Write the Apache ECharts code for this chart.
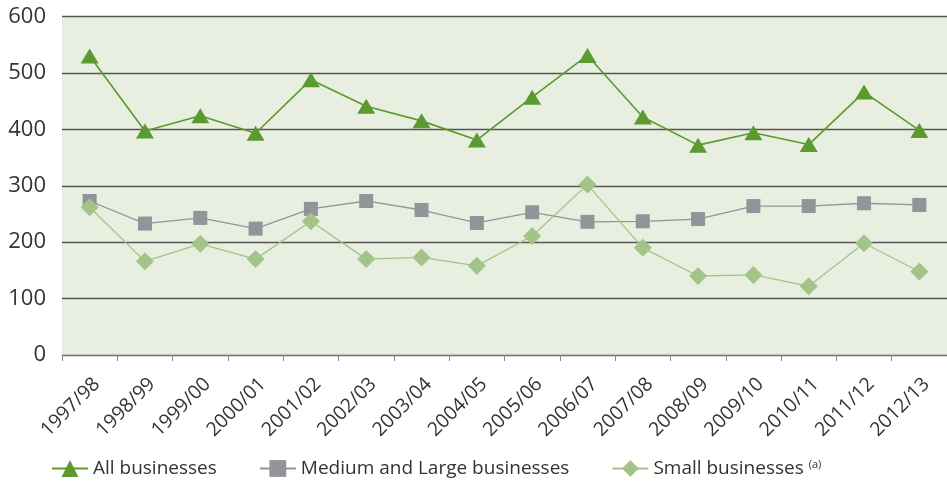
<!DOCTYPE html>
<html>
<head>
<meta charset="utf-8">
<script src="https://cdn.jsdelivr.net/npm/echarts@6/dist/echarts.min.js"></script>
<style>
html,body{margin:0;padding:0;background:#fff;}
#c{width:947px;height:483px;}
</style>
</head>
<body>
<div id="c"></div>
<script>
const categories = ["1997/98","1998/99","1999/00","2000/01","2001/02","2002/03","2003/04","2004/05","2005/06","2006/07","2007/08","2008/09","2009/10","2010/11","2011/12","2012/13"];
const allBusinesses = [530, 397, 424, 393, 488, 441, 415, 381, 457, 531, 422, 372, 394, 373, 466, 398];
const mediumLarge = [273, 233, 243, 224, 259, 273, 257, 234, 253, 236, 237, 241, 264, 264, 269, 266];
const smallBusinesses = [262, 166, 197, 170, 237, 170, 173, 158, 211, 302, 190, 140, 142, 122, 198, 148];
const yTicks = [0, 100, 200, 300, 400, 500, 600];

const FONT = '"Open Sans", "Noto Sans", sans-serif';
const chart = echarts.init(document.getElementById('c'), null, {renderer: 'canvas'});
chart.setOption({
  animation: false,
  textStyle: {fontFamily: FONT, color: '#333'},
  grid: {left: 62, right: -3, top: 16.5, bottom: 128, show: true, backgroundColor: '#e8eee0', borderWidth: 0},
  legend: {
    left: 46, top: 454, itemWidth: 36, itemHeight: 21, itemGap: 42,
    textStyle: {fontFamily: FONT, fontSize: 19, color: '#333',
      rich: {sup: {fontSize: 11, verticalAlign: 'top', padding: [0,0,8,0], fontFamily: FONT, color: '#333'}}},
    formatter: function (name) {
      if (name === 'Small businesses') return name + ' {sup|(a)}';
      return name;
    },
    data: ['All businesses', 'Medium and Large businesses', 'Small businesses']
  },
  xAxis: {
    type: 'category', data: categories, boundaryGap: true,
    axisLine: {show: true, lineStyle: {color: '#777', width: 1}},
    axisTick: {show: true, length: 6, lineStyle: {color: '#888'}},
    axisLabel: {rotate: 45, fontSize: 19.5, color: '#333', margin: 19, verticalAlign: 'top', fontFamily: FONT, interval: 0}
  },
  yAxis: {
    type: 'value', min: yTicks[0], max: yTicks[yTicks.length - 1], interval: 100,
    axisLine: {show: false}, axisTick: {show: false},
    axisLabel: {fontSize: 22, color: '#333', margin: 16, fontFamily: FONT},
    splitLine: {show: true, lineStyle: {color: '#555', width: 1.3}}
  },
  series: [
    {name: 'All businesses', type: 'line', data: allBusinesses, symbol: 'triangle', symbolSize: [18, 15],
      itemStyle: {color: '#5a9a2e'}, lineStyle: {color: '#5a9a2e', width: 1.6}, z: 4},
    {name: 'Medium and Large businesses', type: 'line', data: mediumLarge, symbol: 'rect', symbolSize: 14,
      itemStyle: {color: '#939499'}, lineStyle: {color: '#939499', width: 1.3}, z: 2},
    {name: 'Small businesses', type: 'line', data: smallBusinesses, symbol: 'diamond', symbolSize: [18, 18],
      itemStyle: {color: '#a3c488'}, lineStyle: {color: '#a3c488', width: 1.3}, z: 3}
  ]
});
</script>
</body>
</html>
